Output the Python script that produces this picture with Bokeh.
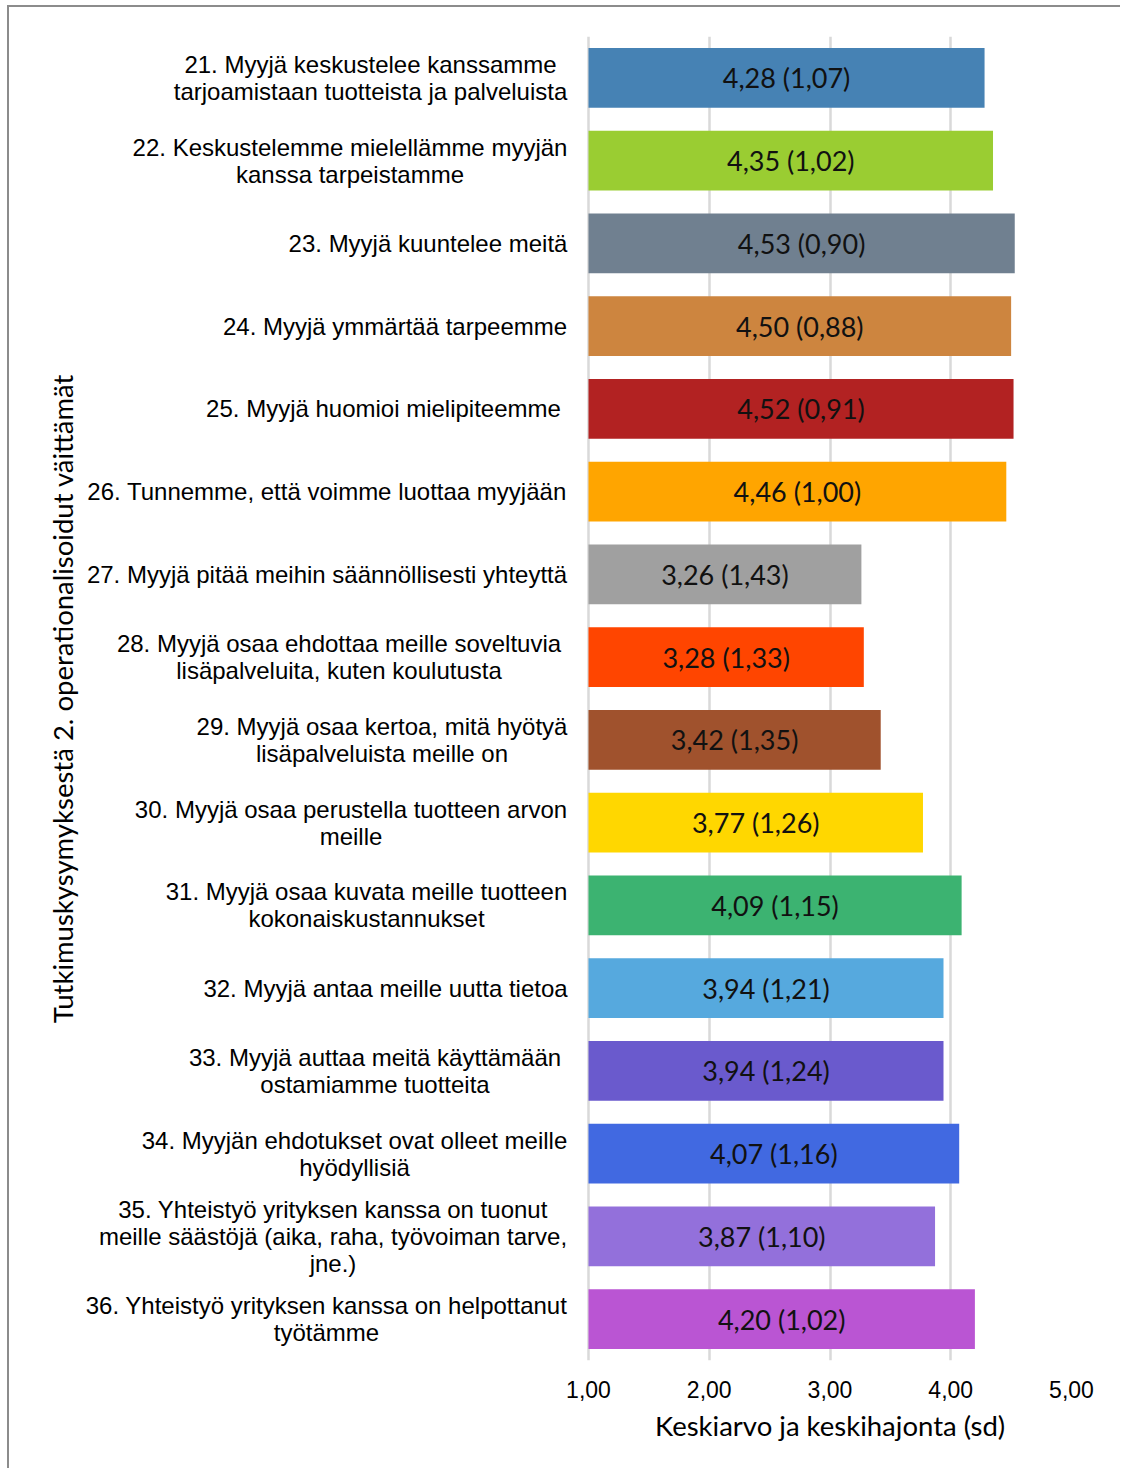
from bokeh.plotting import figure
from bokeh.models import ColumnDataSource, FactorRange, Range1d, FixedTicker, LabelSet, Title
from bokeh.core.properties import value
from bokeh.embed import file_html
from bokeh.resources import INLINE

# --- data -------------------------------------------------------------------
question_ids = [str(i) for i in range(21, 37)]

question_texts = [
    "21. Myyjä keskustelee kanssamme\ntarjoamistaan tuotteista ja palveluista",
    "22. Keskustelemme mielellämme myyjän\nkanssa tarpeistamme",
    "23. Myyjä kuuntelee meitä",
    "24. Myyjä ymmärtää tarpeemme",
    "25. Myyjä huomioi mielipiteemme",
    "26. Tunnemme, että voimme luottaa myyjään",
    "27. Myyjä pitää meihin säännöllisesti yhteyttä",
    "28. Myyjä osaa ehdottaa meille soveltuvia\nlisäpalveluita, kuten koulutusta",
    "29. Myyjä osaa kertoa, mitä hyötyä\nlisäpalveluista meille on",
    "30. Myyjä osaa perustella tuotteen arvon\nmeille",
    "31. Myyjä osaa kuvata meille tuotteen\nkokonaiskustannukset",
    "32. Myyjä antaa meille uutta tietoa",
    "33. Myyjä auttaa meitä käyttämään\nostamiamme tuotteita",
    "34. Myyjän ehdotukset ovat olleet meille\nhyödyllisiä",
    "35. Yhteistyö yrityksen kanssa on tuonut\nmeille säästöjä (aika, raha, työvoiman tarve,\njne.)",
    "36. Yhteistyö yrityksen kanssa on helpottanut\ntyötämme",
]

means = [4.28, 4.35, 4.53, 4.50, 4.52, 4.46, 3.26, 3.28,
         3.42, 3.77, 4.09, 3.94, 3.94, 4.07, 3.87, 4.20]

std_devs = [1.07, 1.02, 0.90, 0.88, 0.91, 1.00, 1.43, 1.33,
            1.35, 1.26, 1.15, 1.21, 1.24, 1.16, 1.10, 1.02]

bar_colors = [
    "#4682B4", "#9ACD32", "#708090", "#CD853F", "#B22222", "#FFA500",
    "#A0A0A0", "#FF4500", "#A0522D", "#FFD700", "#3CB371", "#56A9DE",
    "#6A5ACD", "#4169E1", "#9370DB", "#BA55D3",
]

x_ticks = [1, 2, 3, 4, 5]

# --- layout (pixels) ----------------------------------------------------------
# canvas starts 9 px from the page's left edge (margin + border)
CANVAS_W, CANVAS_H = 1113, 1463
BORDER_L, BORDER_R = 71, 51          # frame spans page x 80 .. 1071
BORDER_T, BORDER_B = 29, 110
AXIS_START_PX = 588                  # page x of the first tick (1,00)
AXIS_END_PX = 1071                   # page x of the last tick (5,00)
FRAME_LEFT_PX = 9 + BORDER_L
X_TITLE_HALF_W = 175                 # half width of the x axis title text

# horizontal centre (page x) of each wrapped question text block
label_centres_px = [370, 349.5, 427.5, 394.5, 383, 326.5, 326.5, 338.5,
                    381.5, 350.5, 366, 385, 374.5, 354, 332.5, 326]

px_per_unit = (AXIS_END_PX - AXIS_START_PX) / (x_ticks[-1] - x_ticks[0])


def px_to_x(px):
    return x_ticks[0] + (px - AXIS_START_PX) / px_per_unit


def fi(v):
    return f"{v:.2f}".replace(".", ",")


value_texts = [f"{fi(m)} ({fi(s)})" for m, s in zip(means, std_devs)]
x_min = x_ticks[0]

src = ColumnDataSource(dict(
    qid=question_ids,
    question=question_texts,
    mean=means,
    base=[x_min] * len(means),
    mid=[(x_min + m) / 2 for m in means],
    value_text=value_texts,
    color=bar_colors,
    label_x=[px_to_x(c) for c in label_centres_px],
))

p = figure(
    width=CANVAS_W, height=CANVAS_H,
    y_range=FactorRange(factors=list(reversed(question_ids)), range_padding=0),
    x_range=Range1d(px_to_x(FRAME_LEFT_PX), x_ticks[-1]),
    output_backend="svg", toolbar_location=None,
    min_border_left=BORDER_L, min_border_right=BORDER_R,
    min_border_top=BORDER_T, min_border_bottom=BORDER_B,
)
p.margin = (5, 0, 0, 7)
p.styles = {"border-left": "2px solid #8c8c8c", "border-top": "2px solid #8c8c8c"}
p.outline_line_color = None
p.background_fill_color = "white"
p.border_fill_color = "white"

p.hbar(y="qid", left="base", right="mean", height=0.725,
       fill_color="color", line_color=None, source=src)

# value labels inside bars
p.add_layout(LabelSet(
    x="mid", y="qid", text="value_text", source=src,
    text_align="center", text_baseline="middle",
    text_font=value("Lato"), text_font_size="27px", text_color="#111111",
))

# question texts left of the bars
p.text(x="label_x", y="qid", text="question", source=src,
       text_align="center", text_baseline="middle", text_line_height=1.0,
       text_font=value("Liberation Sans"), text_font_size="24px",
       text_color="#000000")

# x axis
p.xaxis.ticker = FixedTicker(ticks=x_ticks)
p.xaxis.major_label_overrides = {t: fi(t) for t in x_ticks}
p.xaxis.axis_line_color = None
p.xaxis.major_tick_line_color = None
p.xaxis.minor_tick_line_color = None
p.xaxis.major_label_standoff = 14
p.xaxis.major_label_text_font = "Liberation Sans"
p.xaxis.major_label_text_font_size = "23px"
p.xaxis.major_label_text_color = "#000000"

# x axis title, centred under the 1,00 .. 5,00 span
axis_mid_px = (AXIS_START_PX + AXIS_END_PX) / 2
p.add_layout(Title(
    text="Keskiarvo ja keskihajonta (sd)",
    align="left", offset=axis_mid_px - X_TITLE_HALF_W - FRAME_LEFT_PX,
    text_font="Lato", text_font_style="normal",
    text_font_size="27.5px", text_color="#000000", standoff=13,
), "below")

# vertical title on the left instead of a y axis
p.yaxis.visible = False
p.add_layout(Title(
    text="Tutkimuskysymyksestä 2. operationalisoidut väittämät",
    align="center", text_font="Lato", text_font_style="normal",
    text_font_size="27.5px", text_color="#000000", standoff=4,
), "left")

p.xgrid.grid_line_color = "#d9d9d9"
p.xgrid.grid_line_width = 2.5
p.ygrid.grid_line_color = None

open("out.html", "w").write(file_html(p, INLINE))
